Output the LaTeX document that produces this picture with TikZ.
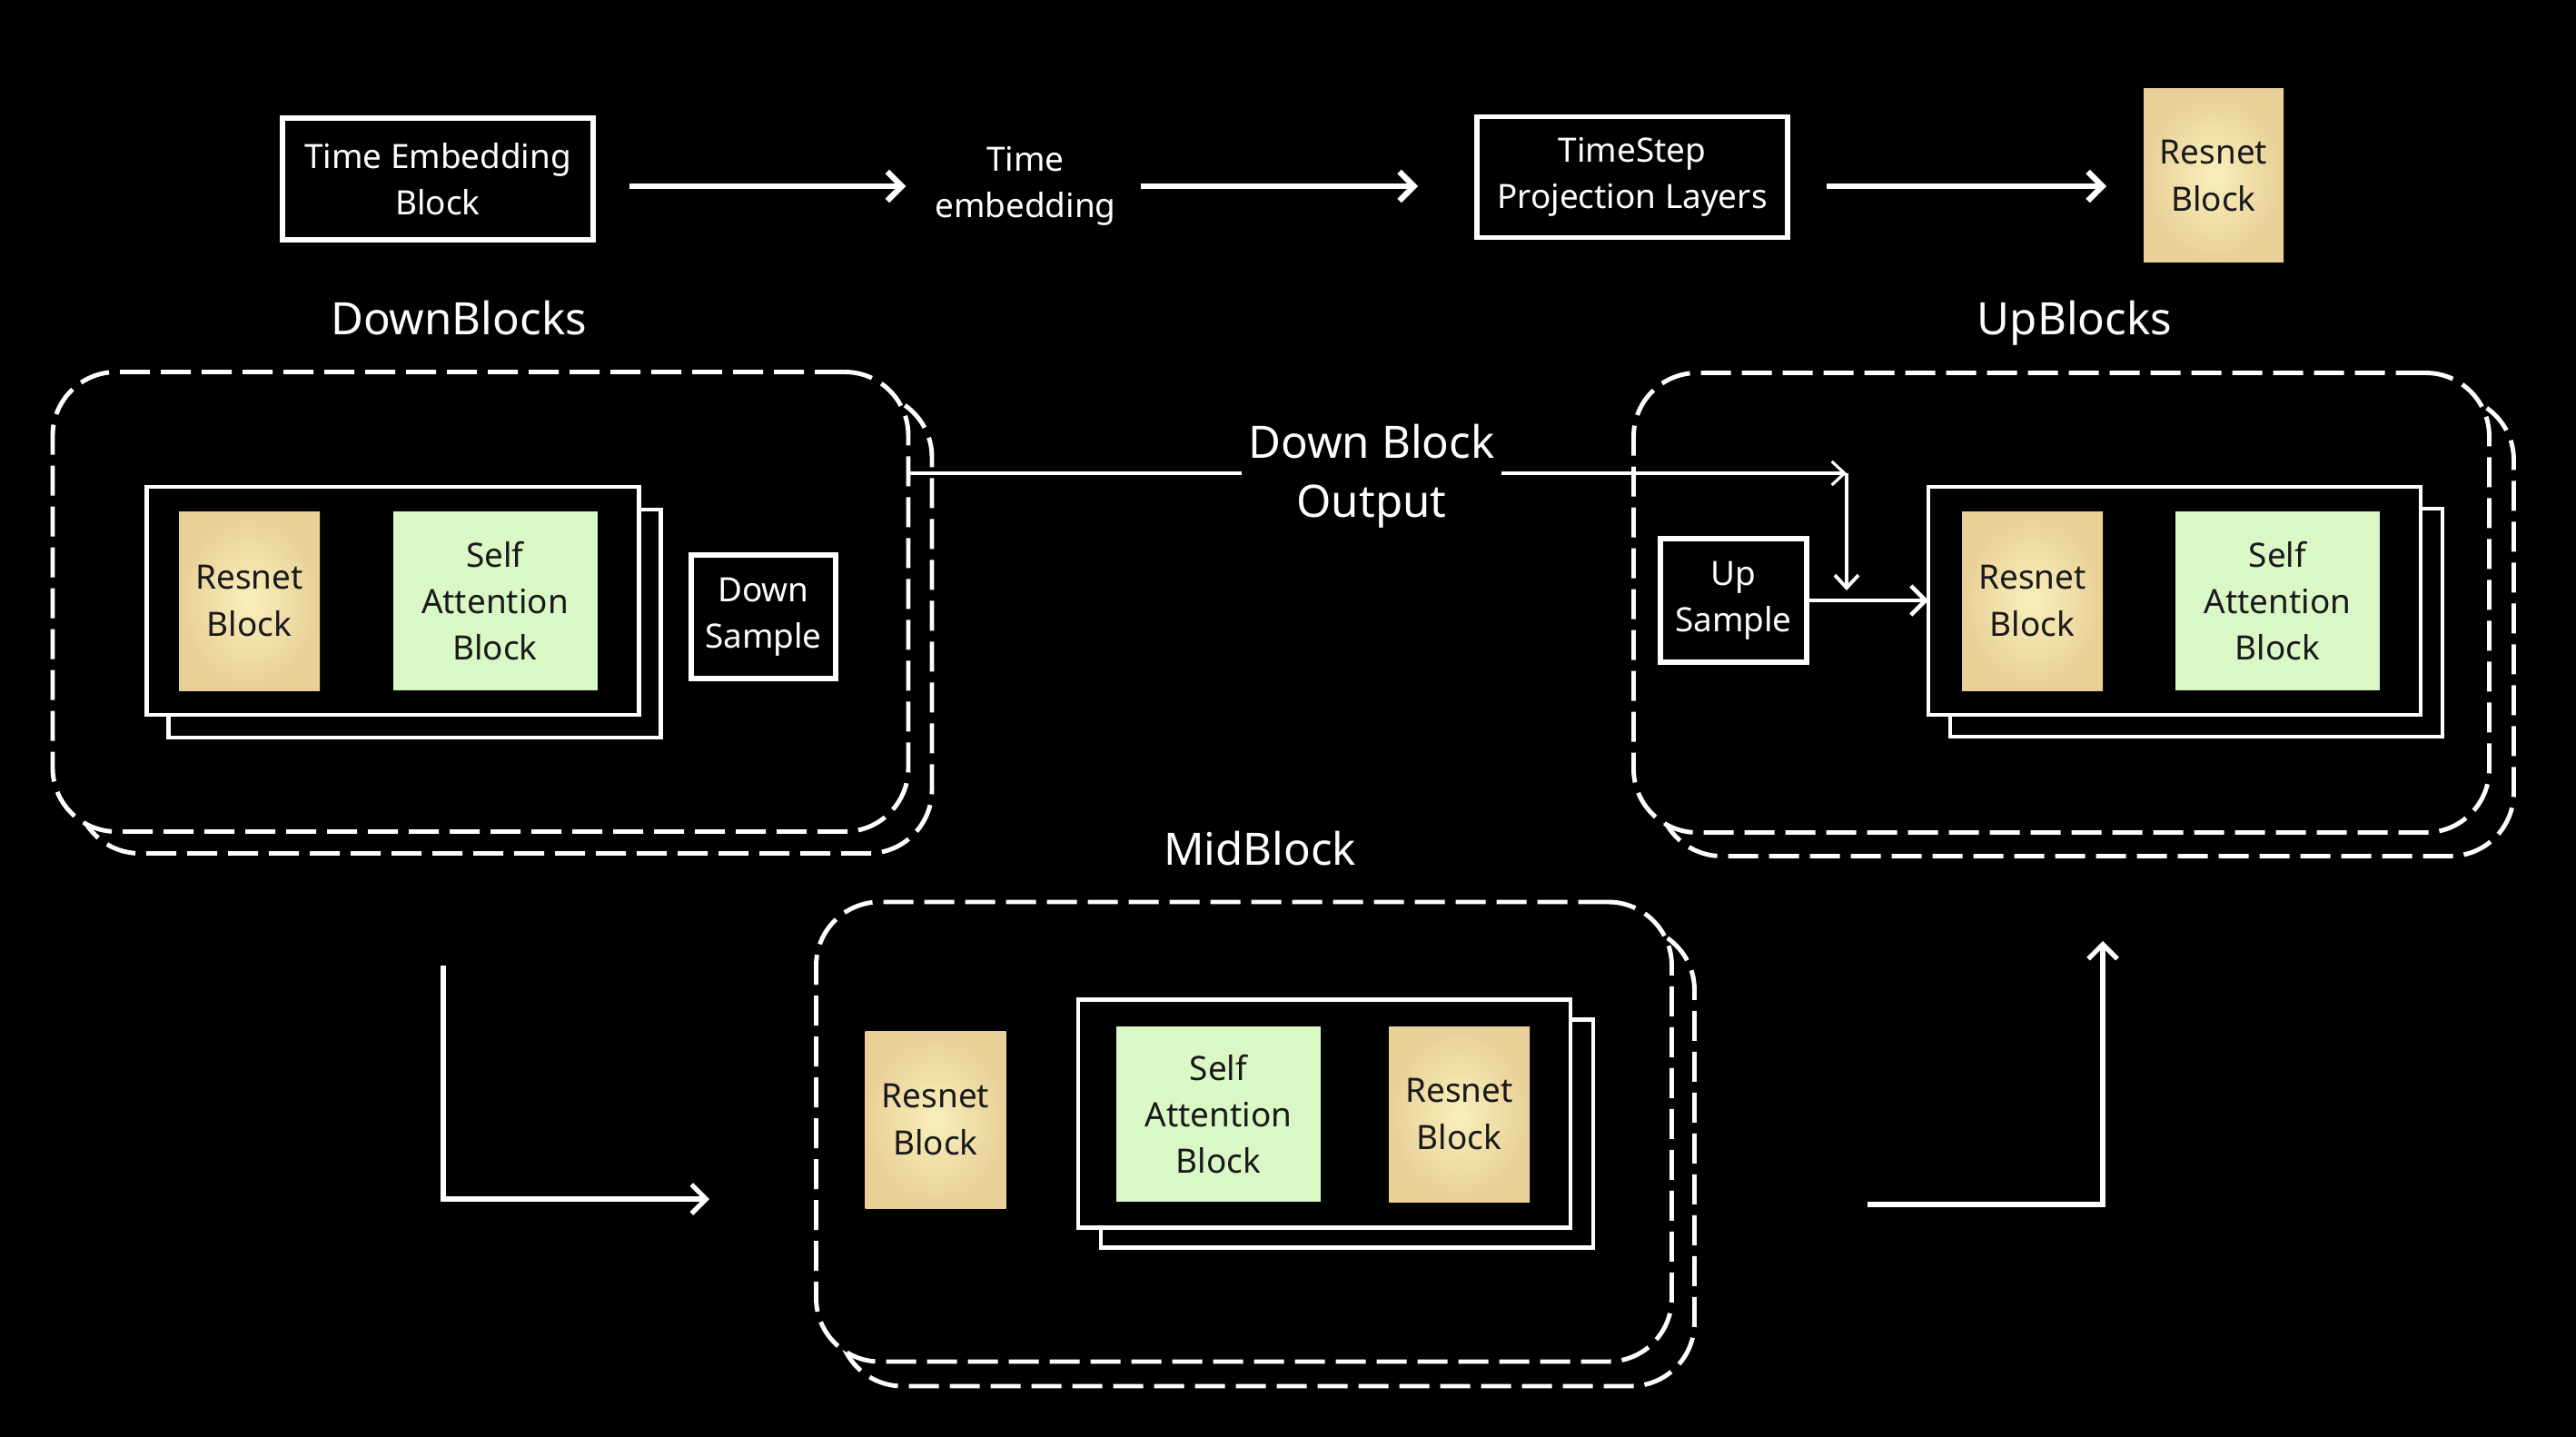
\documentclass[tikz,border=0pt]{standalone}
\usepackage{fontspec}
\setmainfont{Noto Sans}
\usetikzlibrary{arrows.meta, positioning}

\definecolor{resnetin}{HTML}{F9EFBA}
\definecolor{resnetout}{HTML}{E9CF98}
\definecolor{attngreen}{HTML}{DAF7C6}

\begin{document}
\begin{tikzpicture}[
    every node/.style={font=\fontsize{10.5}{14.6}\selectfont, text=white, align=center, inner sep=0pt, outer sep=0pt},
    plainbox/.style={rectangle, draw=white, line width=1.5pt, fill=black, text centered},
    resnet/.style={rectangle, inner color=resnetin, outer color=resnetout, text=black!90, minimum width=1.55cm, minimum height=1.97cm},
    attn/.style={rectangle, fill=attngreen, text=black!90, minimum width=2.25cm, minimum height=1.97cm},
    stack/.style={rectangle, draw=white, fill=black, line width=1.3pt, minimum width=5.42cm, minimum height=2.51cm},
    area/.style={rectangle, draw=white, fill=black, line width=1.4pt, dash pattern=on 0.33cm off 0.12cm, rounded corners=0.7cm, minimum width=9.42cm, minimum height=5.06cm},
    title/.style={font=\fontsize{14}{18.5}\selectfont},
    blocktitle/.style={title, text height=10pt, text depth=3pt},
    arrow/.style={-{Straight Barb[length=1.6mm, width=3.2mm]}, white, line width=1.5pt},
    thinarrow/.style={-{Straight Barb[length=1.4mm, width=2.6mm]}, white, line width=0.9pt}
]

\fill[black] (0,0) rectangle (28.36,-15.82);

% Time embedding row
\node[plainbox, minimum width=3.42cm, minimum height=1.34cm] (teb) at (4.82,-1.97) {Time Embedding\\Block};
\node (temb) at (11.29,-2.05) {Time\\embedding};
\node[plainbox, minimum width=3.42cm, minimum height=1.33cm] (tsp) at (17.97,-1.95) {TimeStep\\Projection Layers};
\node[resnet, minimum width=1.54cm, minimum height=1.91cm] (topres) at (24.37,-1.935) {Resnet\\Block};

\draw[arrow, line width=1.8pt, shorten <=0.4cm, shorten >=0.32cm] (teb.east |- temb.west) -- (temb.west);
\draw[arrow, line width=1.8pt, shorten <=0.27cm, shorten >=0.65cm] (temb.east) -- (temb.east -| tsp.west);
\draw[arrow, line width=1.8pt, shorten <=0.43cm, shorten >=0.41cm] (tsp.east |- temb.east) -- (temb.east -| topres.west);

% Titles
\node[blocktitle] (downtitle) at (5.05,-3.565) {DownBlocks};
\node[blocktitle] (uptitle) at (22.84,-3.565) {UpBlocks};
\node[blocktitle] (midtitle) at (13.87,-9.405) {MidBlock};

% Down blocks
\node[area] (downback) at (5.55,-6.865) {};
\node[area] (downarea) at (5.29,-6.625) {};
\node[stack] (downstackb) at (4.565,-6.865) {};
\node[stack] (downstack) at (4.325,-6.615) {};
\node[resnet] (downres) at (2.745,-6.615) {Resnet\\Block};
\node[attn] (downattn) at (5.45,-6.615) {Self\\Attention\\Block};
\node[plainbox, minimum width=1.59cm, minimum height=1.36cm] (downsample) at (8.405,-6.79) {Down\\Sample};

% Up blocks
\node[area] (upback) at (22.965,-6.895) {};
\node[area] (uparea) at (22.695,-6.635) {};
\node[stack] (upstackb) at (24.18,-6.855) {};
\node[stack] (upstack) at (23.94,-6.615) {};
\node[resnet] (upres) at (22.375,-6.615) {Resnet\\Block};
\node[attn] (upattn) at (25.075,-6.615) {Self\\Attention\\Block};
\node[plainbox, minimum width=1.61cm, minimum height=1.36cm] (upsample) at (19.085,-6.61) {Up\\Sample};

\draw[arrow, line width=1.3pt] (upsample.east) -- (upsample.east -| upstack.west);

% Skip connection
\node[title] (dbo) at (15.1,-5.24) {Down Block\\Output};
\coordinate (joinpt) at (20.33,-5.21);
\coordinate (joinend) at (20.33,-6.50);
\draw[white, line width=0.9pt] (downarea.east |- joinpt) -- ([xshift=-0.08cm]dbo.west |- joinpt);
\draw[thinarrow] ([xshift=0.08cm]dbo.east |- joinpt) -- (joinpt);
\draw[thinarrow, line width=1.1pt] (joinpt) -- (joinend);

% Mid block
\node[area] (midback) at (13.945,-12.73) {};
\node[area] (midarea) at (13.695,-12.46) {};
\node[stack] (midstackb) at (14.83,-12.48) {};
\node[stack] (midstack) at (14.58,-12.26) {};
\node[resnet, minimum height=1.95cm] (midres) at (10.30,-12.325) {Resnet\\Block};
\node[attn, minimum height=1.93cm] (midattn) at (13.415,-12.265) {Self\\Attention\\Block};
\node[resnet, minimum height=1.93cm] (midres2) at (16.065,-12.265) {Resnet\\Block};

% Flow between levels
\coordinate (dstart) at (4.88,-10.63);
\coordinate (dend) at (7.81,-13.20);
\coordinate (ustart) at (20.56,-13.26);
\coordinate (uend) at (23.15,-10.36);
\draw[arrow] (dstart) |- (dend);
\draw[arrow] (ustart) -| (uend);

\end{tikzpicture}
\end{document}
